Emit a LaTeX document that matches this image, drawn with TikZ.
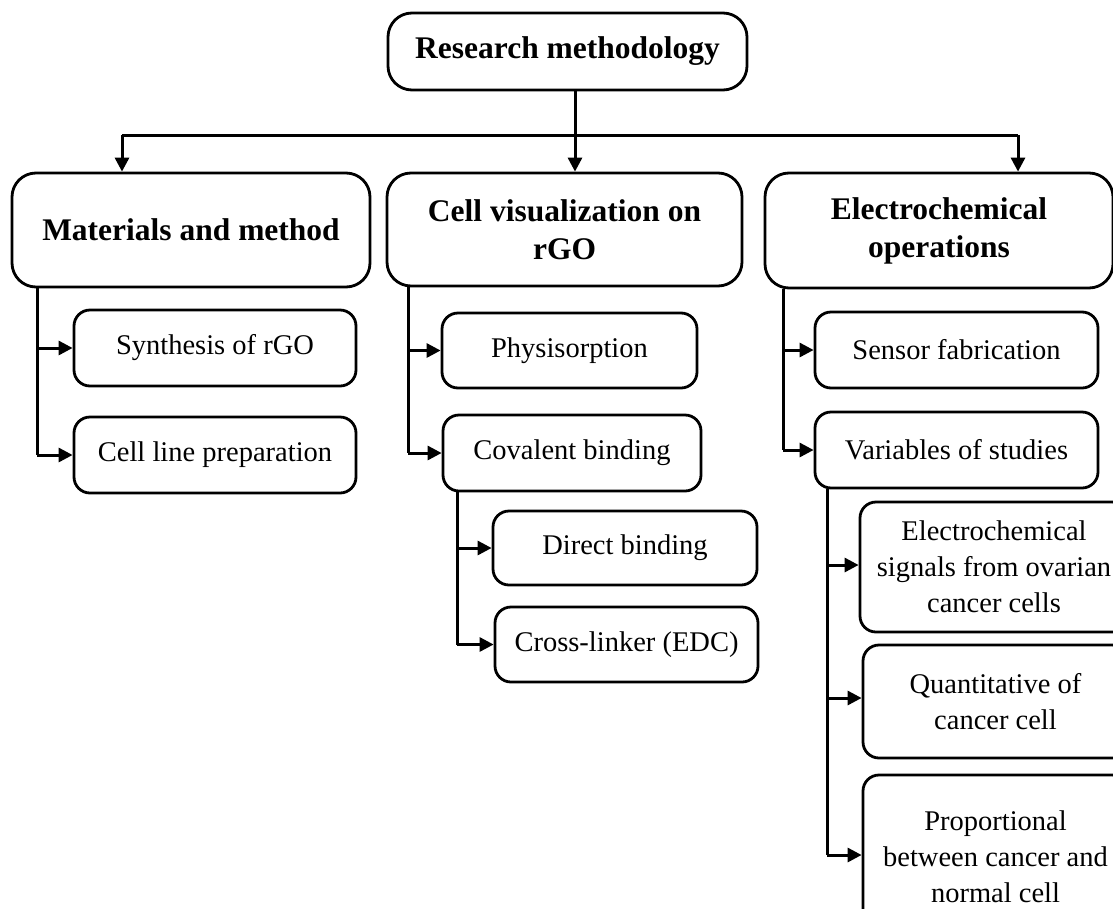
\documentclass[tikz,border=0pt]{standalone}
\usepackage{fontspec}
\setmainfont{Liberation Serif}
\usetikzlibrary{arrows.meta}
\tikzset{
  bx/.style={draw, line width=2.8pt, rounded corners=16pt, inner sep=0pt, align=center,
    font=\fontsize{28.5}{36}\selectfont},
  bigbx/.style={bx, rounded corners=24pt, font=\fontsize{31.5}{38}\selectfont\bfseries},
  conn/.style={line width=3pt},
  arr/.style={conn, -{Triangle[length=14pt,width=14pt]}},
}
\newcommand{\bxat}[5]{\node[#1, minimum width=#4pt, minimum height=#5pt] (#2) at #3}
\begin{document}
\begin{tikzpicture}[x=1pt,y=-1pt]
\useasboundingbox (0,0) rectangle (1113,908);
\clip (0,0) rectangle (1113,908);
% level 0 and 1
\bxat{bigbx}{top}{(567.5,51.5)}{359}{77} {Research methodology};
\bxat{bigbx}{mat}{(191,230)}{358}{114} {Materials and method};
\bxat{bigbx}{cvis}{(564.5,229.5)}{355}{113} {Cell visualization on\\rGO};
\bxat{bigbx}{echem}{(939,230.5)}{348}{115} {Electrochemical\\operations};
% level 2
\bxat{bx}{syn}{(215,348)}{282}{76} {Synthesis of rGO};
\bxat{bx}{cline}{(215,455)}{282}{76} {Cell line preparation};
\bxat{bx}{phys}{(569.5,350.5)}{255}{75} {Physisorption};
\bxat{bx}{cov}{(572,453)}{258}{76} {Covalent binding};
\bxat{bx}{direct}{(625,548)}{264}{74} {Direct binding};
\bxat{bx}{cross}{(626.5,644.5)}{263}{75} {Cross-linker (EDC)};
\bxat{bx}{sensor}{(956.5,350)}{283}{76} {Sensor fabrication};
\bxat{bx}{vars}{(956.5,450)}{283}{76} {Variables of studies};
\bxat{bx}{sig}{(994,567)}{268}{130} {Electrochemical\\signals from ovarian\\cancer cells};
\bxat{bx}{quant}{(995.5,701.5)}{265}{113} {Quantitative of\\cancer cell};
\bxat{bx}{prop}{(995.5,857)}{265}{164} {Proportional\\between cancer and\\normal cell};
% trunk coordinates
\coordinate (hub) at (575,135);
\coordinate (hl) at (122,135);
\coordinate (hr) at (1018,135);
\coordinate (tmat) at (37,0);
\coordinate (tcvis) at (408,0);
\coordinate (tcov) at (457,0);
\coordinate (techem) at (783,0);
\coordinate (tvars) at (827,0);
% top connectors
\draw[conn] (hl) -- (hr);
\draw[conn] (top.south -| hub) -- (hub);
\draw[arr] (hub) -- (cvis.north -| hub);
\draw[arr] (hl) -- (mat.north -| hl);
\draw[arr] (hr) -- (echem.north -| hr);
% branches
\draw[conn] (mat.south -| tmat) -- (cline.west -| tmat);
\draw[arr] (syn.west -| tmat) -- (syn.west);
\draw[arr] (cline.west -| tmat) -- (cline.west);
\draw[conn] (cvis.south -| tcvis) -- (cov.west -| tcvis);
\draw[arr] (phys.west -| tcvis) -- (phys.west);
\draw[arr] (cov.west -| tcvis) -- (cov.west);
\draw[conn] (cov.south -| tcov) -- (cross.west -| tcov);
\draw[arr] (direct.west -| tcov) -- (direct.west);
\draw[arr] (cross.west -| tcov) -- (cross.west);
\draw[conn] (echem.south -| techem) -- (vars.west -| techem);
\draw[arr] (sensor.west -| techem) -- (sensor.west);
\draw[arr] (vars.west -| techem) -- (vars.west);
\coordinate (psig) at (0,565);
\coordinate (pquant) at (0,698);
\coordinate (pprop) at (0,855);
\draw[conn] (vars.south -| tvars) -- (tvars |- pprop);
\draw[arr] (tvars |- psig) -- (sig.west |- psig);
\draw[arr] (tvars |- pquant) -- (quant.west |- pquant);
\draw[arr] (tvars |- pprop) -- (prop.west |- pprop);
\end{tikzpicture}
\end{document}
